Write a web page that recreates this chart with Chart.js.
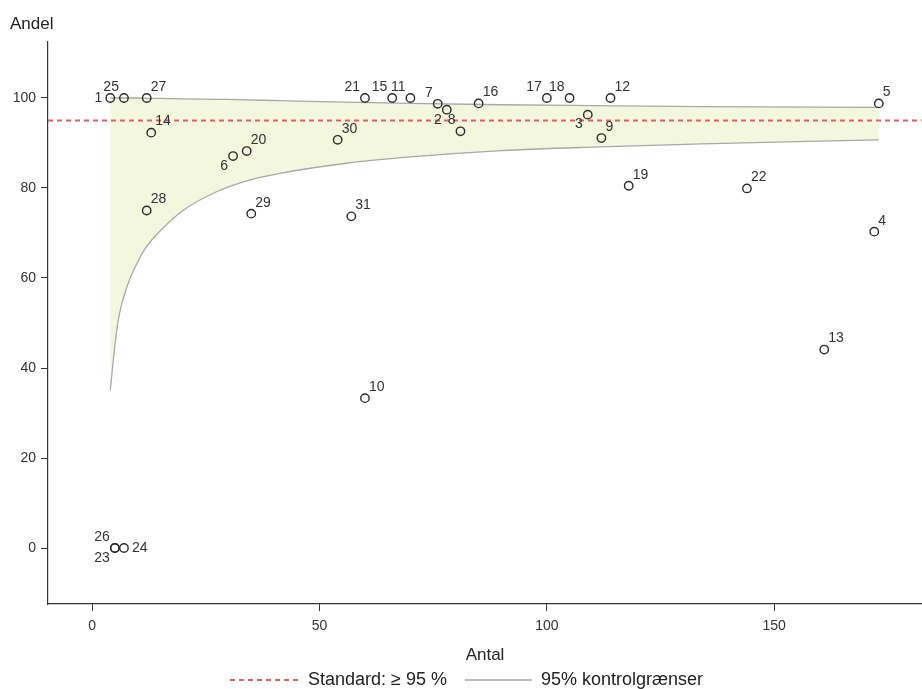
<!DOCTYPE html>
<html><head><meta charset="utf-8">
<script src="https://cdn.jsdelivr.net/npm/chart.js@4.4.1/dist/chart.umd.min.js"></script>
<style>html,body{margin:0;padding:0;background:#fff}#wrap{width:922px;height:689px;position:relative}</style>
</head><body><div id="wrap"><canvas id="c"></canvas></div>
<script>
// ---- data ----
const unitIds = [1,2,3,4,5,6,7,8,9,10,11,12,13,14,15,16,17,18,19,20,21,22,23,24,25,26,27,28,29,30,31];
const antal   = [4,78,109,172,173,31,76,81,112,60,70,114,161,13,66,85,100,105,118,34,60,144,5,7,7,5,12,12,35,54,57];
const andel   = [100,97.4,96.3,70.3,98.8,87.1,98.7,92.6,91.1,33.3,100,100,44.1,92.3,100,98.8,100,100,80.5,88.2,100,79.9,0,0,100,0,100,75,74.3,90.7,73.7];

const ctrlN     = [4,5,6,8,10,12,15,20,27,34,41,56,70,90,110,134,173];
const ctrlUpper = [100,100,100,100,100,99.9,99.9,99.8,99.7,99.6,99.4,99.1,98.8,98.5,98.3,98.1,97.9];
const ctrlLower = [35,45,52,59,63.5,67,70.5,75,79,81.6,83.2,85.5,86.9,88.3,89.1,89.8,90.7];

const standard = 95;
const xTicks = [0,50,100,150];
const yTicks = [0,20,40,60,80,100];
const xMin = -9.7, xMax = 182.5;
const yMin = -12.44, yMax = 112.44;

// label placement (clock-style) for units whose label is not upper-right
const labelPos = {1:'l',2:'ll',3:'ll',6:'ll',7:'ul',8:'ul',11:'ul',15:'ul',17:'ul',18:'ul',21:'ul',23:'ll',24:'r',25:'ul',26:'ul'};

const FONT = '"Liberation Sans", Arial, sans-serif';
const TXT = '#333333';

const pointLabelPlugin = {
  id: 'pointLabels',
  afterDatasetsDraw(chart) {
    const meta = chart.getDatasetMeta(3);
    const ctx = chart.ctx;
    ctx.save();
    ctx.font = '14px ' + FONT;
    ctx.fillStyle = TXT;
    ctx.textBaseline = 'middle';
    meta.data.forEach((el, i) => {
      const id = unitIds[i];
      const pos = labelPos[id] || 'ur';
      let x = el.x, y = el.y;
      if (pos === 'ur') { ctx.textAlign = 'left'; x += 4; y -= 11; }
      else if (pos === 'ul') { ctx.textAlign = 'right'; x -= 5; y -= 11; }
      else if (pos === 'l') { ctx.textAlign = 'right'; x -= 8; }
      else if (pos === 'll') { ctx.textAlign = 'right'; x -= 5; y += 10; }
      else if (pos === 'r') { ctx.textAlign = 'left'; x += 8; }
      ctx.fillText(String(id), x, y);
    });
    ctx.restore();
  }
};

const decorPlugin = {
  id: 'decor',
  afterDraw(chart) {
    const ctx = chart.ctx;
    const ca = chart.chartArea;
    ctx.save();
    ctx.fillStyle = '#222';
    ctx.font = '17px ' + FONT;
    ctx.textBaseline = 'middle';
    ctx.textAlign = 'left';
    ctx.fillText('Andel', 10, 24);
    ctx.textAlign = 'center';
    ctx.fillText('Antal', (ca.left + ca.right) / 2, 655);
    // legend
    const ly = 680;
    ctx.lineWidth = 1.8;
    ctx.strokeStyle = '#e35d66';
    ctx.setLineDash([5, 4]);
    ctx.beginPath(); ctx.moveTo(230, ly); ctx.lineTo(298, ly); ctx.stroke();
    ctx.setLineDash([]);
    ctx.strokeStyle = '#a8a8a8';
    ctx.lineWidth = 1.3;
    ctx.beginPath(); ctx.moveTo(465, ly); ctx.lineTo(532, ly); ctx.stroke();
    ctx.font = '18px ' + FONT;
    ctx.textAlign = 'left';
    ctx.fillText('Standard: \u2265 95 %', 308, ly);
    ctx.fillText('95% kontrolgr\u00e6nser', 541, ly);
    ctx.restore();
  }
};

const upperData = ctrlN.map((n, i) => ({x: n, y: ctrlUpper[i]}));
const lowerData = ctrlN.map((n, i) => ({x: n, y: ctrlLower[i]}));
const unitData = antal.map((n, i) => ({x: n, y: andel[i]}));

new Chart(document.getElementById('c'), {
  type: 'scatter',
  data: {
    datasets: [
      { label: 'upper', type: 'line', data: upperData, borderColor: '#a8a8a8', borderWidth: 1.3,
        backgroundColor: '#f3f7de', fill: '+1', pointRadius: 0, cubicInterpolationMode: 'monotone', order: 4 },
      { label: 'lower', type: 'line', data: lowerData, borderColor: '#a8a8a8', borderWidth: 1.3,
        fill: false, pointRadius: 0, cubicInterpolationMode: 'monotone', order: 3 },
      { label: 'standard', type: 'line', data: [{x: xMin, y: standard}, {x: xMax, y: standard}],
        borderColor: '#e35d66', borderWidth: 1.8, borderDash: [5, 4], pointRadius: 0, fill: false, order: 2 },
      { label: 'units', data: unitData, pointRadius: 4.2, pointBorderWidth: 1.4,
        pointBorderColor: '#2b2b2b', pointBackgroundColor: 'rgba(0,0,0,0)', order: 1 }
    ]
  },
  options: {
    responsive: true, maintainAspectRatio: false, animation: false,
    layout: { autoPadding: false, padding: { top: 42, right: 0, bottom: 0, left: 0 } },
    plugins: { legend: { display: false }, tooltip: { enabled: false } },
    scales: {
      x: {
        type: 'linear', min: xMin, max: xMax,
        afterBuildTicks: s => { s.ticks = xTicks.map(v => ({value: v})); },
        afterFit: s => { s.height = 85; s.paddingRight = 0; s.paddingLeft = 0; },
        grid: { drawOnChartArea: false, drawTicks: true, tickLength: 7, color: '#333' },
        border: { display: true, color: '#333', width: 1.2 },
        ticks: { font: { size: 14, family: FONT }, color: TXT, padding: 7, maxRotation: 0 }
      },
      y: {
        type: 'linear', min: yMin, max: yMax,
        afterBuildTicks: s => { s.ticks = yTicks.map(v => ({value: v})); },
        afterFit: s => { s.width = 48; s.paddingTop = 0; s.paddingBottom = 0; },
        grid: { drawOnChartArea: false, drawTicks: true, tickLength: 7, color: '#333' },
        border: { display: true, color: '#333', width: 1.2 },
        ticks: { font: { size: 14, family: FONT }, color: TXT, padding: 5 }
      }
    }
  },
  plugins: [pointLabelPlugin, decorPlugin]
});
</script></body></html>
